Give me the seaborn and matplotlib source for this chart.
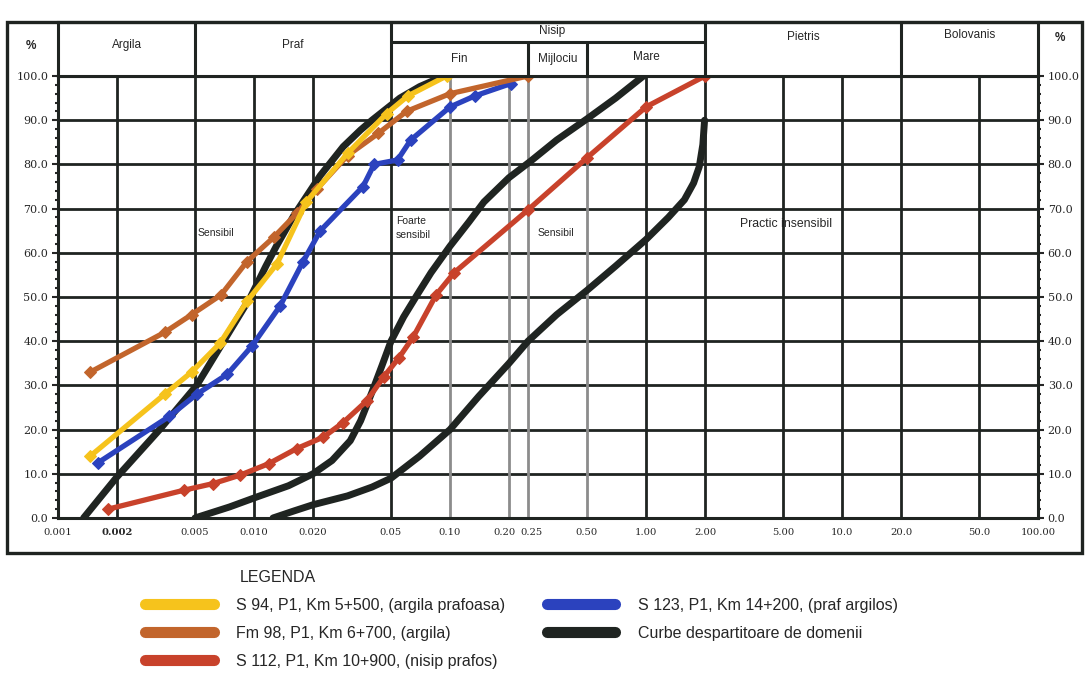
import numpy as np
import pandas as pd
import matplotlib
matplotlib.use("Agg")
import matplotlib.pyplot as plt
import seaborn as sns
from matplotlib.lines import Line2D
from matplotlib.patches import Rectangle
from matplotlib.ticker import FixedLocator, NullLocator, MultipleLocator
from matplotlib.transforms import ScaledTranslation
from matplotlib import font_manager

# diametru particule (mm) si procent treceri
s94_d = [0.00146, 0.0035, 0.0048, 0.0067, 0.0092, 0.0131, 0.0185, 0.030, 0.0475, 0.061, 0.096]
s94_p = [14, 28, 33, 39.5, 49, 57.5, 71.5, 82.5, 91.5, 95.5, 100]

fm98_d = [0.00146, 0.0035, 0.0048, 0.0068, 0.0092, 0.0126, 0.0166, 0.021, 0.030, 0.043, 0.060, 0.10, 0.25]
fm98_p = [33, 42, 46, 50.5, 58, 63.5, 69, 74.5, 82, 87, 92, 96, 100]

s112_d = [0.0018, 0.0044, 0.0062, 0.0085, 0.0119, 0.0165, 0.0226, 0.0285, 0.0376, 0.046,
          0.055, 0.065, 0.085, 0.105, 0.25, 0.50, 1.0, 2.0]
s112_p = [2, 6.3, 7.8, 9.7, 12.3, 15.7, 18.3, 21.6, 26.5, 32, 36.3, 41, 50.5, 55.5, 69.7, 81.5, 93, 100]

s123_d = [0.0016, 0.0037, 0.0051, 0.0073, 0.0098, 0.0136, 0.0178, 0.0218, 0.036, 0.041,
          0.054, 0.063, 0.10, 0.134, 0.205]
s123_p = [12.5, 23, 28, 32.5, 39, 48, 58, 65, 75, 80, 81, 85.5, 93, 95.5, 98.3]

# curbe despartitoare de domenii
curba1_d = [0.00135, 0.002, 0.0033, 0.0051, 0.007, 0.0096, 0.0115, 0.013, 0.016, 0.0218,
            0.0285, 0.035, 0.040, 0.0555, 0.07, 0.093]
curba1_p = [0, 9.3, 20, 30, 40, 50, 57, 61.5, 68.5, 77.5, 84, 87.8, 90, 95, 97.6, 100]

curba2_d = [0.005, 0.0075, 0.0104, 0.015, 0.020, 0.025, 0.031, 0.035, 0.040, 0.045, 0.050,
            0.058, 0.068, 0.08, 0.10, 0.125, 0.149, 0.20, 0.259, 0.35, 0.50, 0.70, 0.97]
curba2_p = [0, 2.5, 4.8, 7.3, 10, 13, 17.5, 22, 28.5, 34.5, 40, 45.5, 50.5, 55.5, 61.5, 67,
            71.5, 77, 80.8, 85.5, 90.3, 95, 100]

curba3_d = [0.0125, 0.016, 0.020, 0.030, 0.040, 0.050, 0.070, 0.10, 0.14, 0.20, 0.25, 0.35,
            0.50, 0.70, 1.0, 1.3, 1.57, 1.75, 1.87, 1.95, 1.99]
curba3_p = [0, 1.6, 3, 5, 7, 9, 14, 20, 27.5, 35, 40, 46, 51.5, 57, 63, 68, 72, 75.8, 79.5,
            84.5, 90]

x_ticks = [0.001, 0.002, 0.005, 0.01, 0.02, 0.05, 0.1, 0.2, 0.25, 0.5, 1, 2, 5, 10, 20, 50, 100]
x_labels = ["0.001", "0.002", "0.005", "0.010", "0.020", "0.05", "0.10", "0.20", "0.25",
            "0.50", "1.00", "2.00", "5.00", "10.0", "20.0", "50.0", "100.00"]
x_gri = [0.1, 0.2, 0.25, 0.5]

legenda = ["S 94, P1, Km 5+500, (argila prafoasa)",
           "Fm 98, P1, Km 6+700, (argila)",
           "S 112, P1, Km 10+900, (nisip prafos)",
           "S 123, P1, Km 14+200, (praf argilos)",
           "Curbe despartitoare de domenii"]

GALBEN = "#F6C31C"
PORTOCALIU = "#C2652C"
ROSU = "#C8422B"
ALBASTRU = "#2B42BE"
NEGRU = "#1F2421"

sns.set_style("white")
plt.rcParams["font.family"] = ["Liberation Sans", "DejaVu Sans"]

nume_fonturi = {f.name for f in font_manager.fontManager.ttflist}
font_leg = "Liberation Sans Narrow" if "Liberation Sans Narrow" in nume_fonturi else "Liberation Sans"
size_leg = 13.5 if font_leg == "Liberation Sans Narrow" else 11.5

W, H = 1085, 674
fig = plt.figure(figsize=(W / 100, H / 100), dpi=100)
fig.patch.set_facecolor("white")

ax = fig.add_axes([58 / W, 1 - 518 / H, (1038 - 58) / W, (518 - 76) / H])
ax.set_xscale("log")
hx = fig.add_axes([58 / W, 1 - 76 / H, (1038 - 58) / W, (76 - 22) / H], sharex=ax)

ax.set_xlim(0.001, 100)
ax.set_ylim(0, 100)

# grila
for xv in x_ticks[1:-1]:
    ax.axvline(xv, color="#8c8c8c" if xv in x_gri else NEGRU, lw=2.0, zorder=1)
ax.yaxis.set_major_locator(MultipleLocator(10))
ax.yaxis.set_minor_locator(MultipleLocator(2))
ax.grid(axis="y", which="major", color=NEGRU, lw=2.0, zorder=1)
ax.set_axisbelow(True)

# curbe despartitoare
for d, p in [(curba1_d, curba1_p), (curba2_d, curba2_p), (curba3_d, curba3_p)]:
    sns.lineplot(x=d, y=p, ax=ax, color=NEGRU, lw=5, sort=False, estimator=None,
                 solid_capstyle="round", solid_joinstyle="round", zorder=3)

# probe
probe = [(s112_d, s112_p, ROSU), (s123_d, s123_p, ALBASTRU),
         (fm98_d, fm98_p, PORTOCALIU), (s94_d, s94_p, GALBEN)]
for d, p, c in probe:
    sns.lineplot(x=d, y=p, ax=ax, color=c, lw=3.8, sort=False, estimator=None,
                 marker="D", markersize=6, markeredgecolor=c, zorder=4)

ax.set_xlabel("")
ax.set_ylabel("")
ax.xaxis.set_major_locator(FixedLocator(x_ticks))
ax.xaxis.set_minor_locator(NullLocator())
ax.set_xticklabels(x_labels)
ax.tick_params(axis="x", length=0, pad=7, labelsize=7.2)
for lbl in ax.get_xticklabels():
    lbl.set_family("DejaVu Serif")
    if lbl.get_text() == "0.002":
        lbl.set_fontweight("bold")
    if lbl.get_text() == "0.20":
        lbl.set_transform(lbl.get_transform() + ScaledTranslation(-5 / 100, 0, fig.dpi_scale_trans))
    if lbl.get_text() == "0.25":
        lbl.set_transform(lbl.get_transform() + ScaledTranslation(4 / 100, 0, fig.dpi_scale_trans))
ax.set_yticklabels([f"{v:.1f}" for v in ax.get_yticks()])
ax.tick_params(axis="y", which="major", left=True, right=True, labelleft=True, labelright=True,
               direction="out", length=4, width=1.5, labelsize=8, pad=3)
ax.tick_params(axis="y", which="minor", left=True, right=True, direction="out", length=2.5, width=1.5)
for lbl in ax.get_yticklabels(which="both"):
    lbl.set_family("DejaVu Serif")
for s in ax.spines.values():
    s.set_color(NEGRU)
    s.set_linewidth(2.2)

# zone de sensibilitate
ax.text(0.0064, 64.5, "Sensibil", fontsize=7.5, ha="center", va="center")
ax.text(0.053, 65.5, "Foarte\nsensibil", fontsize=7.5, ha="left", va="center", linespacing=1.5)
ax.text(0.345, 64.5, "Sensibil", fontsize=7.5, ha="center", va="center")
ax.text(5.2, 66.5, "Practic insensibil", fontsize=8.8, ha="center", va="center")

# cap de tabel cu fractiunile granulometrice
hx.set_ylim(0, 1)
hx.tick_params(which="both", bottom=False, labelbottom=False, left=False, labelleft=False)
for s in hx.spines.values():
    s.set_color(NEGRU)
    s.set_linewidth(2.2)
for xv in [0.005, 0.05, 2, 20]:
    hx.axvline(xv, color=NEGRU, lw=2.2)
for xv in [0.25, 0.5]:
    hx.axvline(xv, ymin=0, ymax=0.63, color=NEGRU, lw=2.2)
hx.axhline(0.63, xmin=(np.log10(0.05) + 3) / 5, xmax=(np.log10(2) + 3) / 5, color=NEGRU, lw=2.2)
hx.text(np.sqrt(0.001 * 0.005), 0.57, "Argila", fontsize=8.5, ha="center", va="center")
hx.text(np.sqrt(0.005 * 0.05), 0.57, "Praf", fontsize=8.5, ha="center", va="center")
hx.text(0.33, 0.84, "Nisip", fontsize=8.5, ha="center", va="center")
hx.text(np.sqrt(0.05 * 0.25), 0.32, "Fin", fontsize=8.5, ha="center", va="center")
hx.text(np.sqrt(0.25 * 0.5), 0.32, "Mijlociu", fontsize=8.5, ha="center", va="center")
hx.text(1.0, 0.36, "Mare", fontsize=8.5, ha="center", va="center")
hx.text(np.sqrt(2 * 20), 0.72, "Pietris", fontsize=8.5, ha="center", va="center")
hx.text(np.sqrt(20 * 100), 0.75, "Bolovanis", fontsize=8.5, ha="center", va="center")
fig.text(31 / W, 1 - 46 / H, "%", fontsize=8.5, ha="center", va="center", weight="bold")
fig.text(1060 / W, 1 - 38 / H, "%", fontsize=8.5, ha="center", va="center", weight="bold")

# rama exterioara
fig.add_artist(Rectangle((7 / W, 1 - 553 / H), 1075 / W, 531 / H, transform=fig.transFigure,
                         fill=False, edgecolor=NEGRU, lw=2.4))

# legenda
fig.text(240 / W, 1 - 577 / H, "LEGENDA", fontsize=size_leg, ha="left", va="center",
         family=font_leg)
culori_leg = [GALBEN, PORTOCALIU, ROSU, ALBASTRU, NEGRU]
handles = [Line2D([], [], color=c, lw=8, solid_capstyle="round") for c in culori_leg]
fig.legend(handles, legenda, loc="upper left", bbox_to_anchor=(145 / W, 1 - 598 / H),
           ncol=2, frameon=False, handlelength=4.3, handletextpad=1.4, columnspacing=2.6,
           labelspacing=0.8, borderpad=0, borderaxespad=0,
           prop={"family": font_leg, "size": size_leg})

fig.savefig("out.png", dpi=100, facecolor="white")
